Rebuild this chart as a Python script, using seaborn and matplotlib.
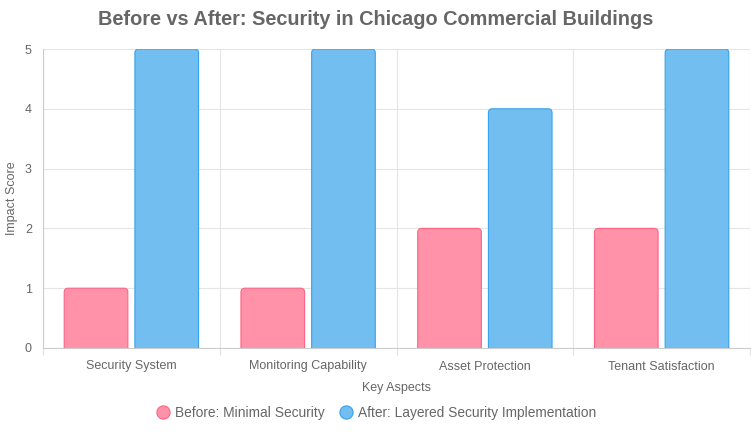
"""Before vs After bar chart: security in Chicago commercial buildings."""
import pandas as pd
import matplotlib.pyplot as plt
import seaborn as sns
from matplotlib.path import Path
from matplotlib.patches import PathPatch
from matplotlib.lines import Line2D

aspects = ["Security System", "Monitoring Capability", "Asset Protection", "Tenant Satisfaction"]
before_scores = [1, 1, 2, 2]
after_scores = [5, 5, 4, 5]
series_names = ["Before: Minimal Security", "After: Layered Security Implementation"]

fill_colors = ["#FF92A9", "#72BEF1"]
edge_colors = ["#FF6384", "#36A2EB"]
text_color = "#666666"

df = pd.DataFrame({
    "aspect": aspects * 2,
    "score": before_scores + after_scores,
    "series": [series_names[0]] * len(aspects) + [series_names[1]] * len(aspects),
})

sns.set_style("white")
plt.rcParams["font.family"] = ["Liberation Sans", "DejaVu Sans"]

fig = plt.figure(figsize=(7.51, 4.33), dpi=100)
ax = fig.add_axes([43 / 751, 1 - 348 / 433, 707 / 751, 299 / 433])

sns.barplot(data=df, x="aspect", y="score", hue="series", hue_order=series_names,
            palette=fill_colors, saturation=1, width=0.8, gap=0.1, legend=False, ax=ax)

ax.set_xlim(-0.5, len(aspects) - 0.5)
ax.set_ylim(0, 5)

# rounded top corners, no border along the base (Chart.js style)
px_x = len(aspects) / 707
px_y = 5 / 299
rx, ry = 4 * px_x, 4 * px_y
bars = list(ax.patches)
for i, bar in enumerate(bars):
    idx = i // len(aspects)
    x0, w, h = bar.get_x(), bar.get_width(), bar.get_height()
    x1 = x0 + w
    verts = [(x0, 0), (x0, h - ry), (x0, h), (x0 + rx, h), (x1 - rx, h),
             (x1, h), (x1, h - ry), (x1, 0)]
    codes = [Path.MOVETO, Path.LINETO, Path.CURVE3, Path.CURVE3, Path.LINETO,
             Path.CURVE3, Path.CURVE3, Path.LINETO]
    ax.add_patch(PathPatch(Path(verts, codes), facecolor=fill_colors[idx],
                           edgecolor=edge_colors[idx], linewidth=0.8, zorder=3))
    bar.remove()

# grid
ax.set_yticks(range(0, 6))
ax.yaxis.grid(True, color="#e5e5e5", linewidth=0.8)
ax.set_xticks([i - 0.5 for i in range(len(aspects) + 1)], minor=True)
ax.xaxis.grid(True, which="minor", color="#e5e5e5", linewidth=0.8)
ax.set_axisbelow(True)

for side in ["top", "right"]:
    ax.spines[side].set_visible(False)
for side in ["left", "bottom"]:
    ax.spines[side].set_color("#cccccc")
    ax.spines[side].set_linewidth(0.8)

ax.tick_params(axis="x", which="major", length=0, pad=9, labelsize=9, labelcolor=text_color)
ax.tick_params(axis="x", which="minor", length=5, width=0.8, color="#e0e0e0", bottom=True)
ax.tick_params(axis="y", length=0, pad=8, labelsize=9, labelcolor=text_color)

ax.set_xlabel("Key Aspects", fontsize=9, color=text_color, labelpad=7)
ax.set_ylabel("Impact Score", fontsize=9, color=text_color, labelpad=5)

fig.suptitle("Before vs After: Security in Chicago Commercial Buildings",
             x=0.5, y=0.978, fontsize=14.3, fontweight="bold", color=text_color)

handles = [Line2D([], [], linestyle="none", marker="o", markersize=9.5,
                  markerfacecolor=fill_colors[i], markeredgecolor=edge_colors[i],
                  markeredgewidth=0.8) for i in range(2)]
fig.legend(handles, series_names, loc="center", bbox_to_anchor=(0.5, 1 - 413 / 433),
           ncol=2, frameon=False, fontsize=9.9, labelcolor=text_color,
           handletextpad=0.3, columnspacing=0.9, handlelength=1.2)

fig.savefig("out.png", dpi=100)
